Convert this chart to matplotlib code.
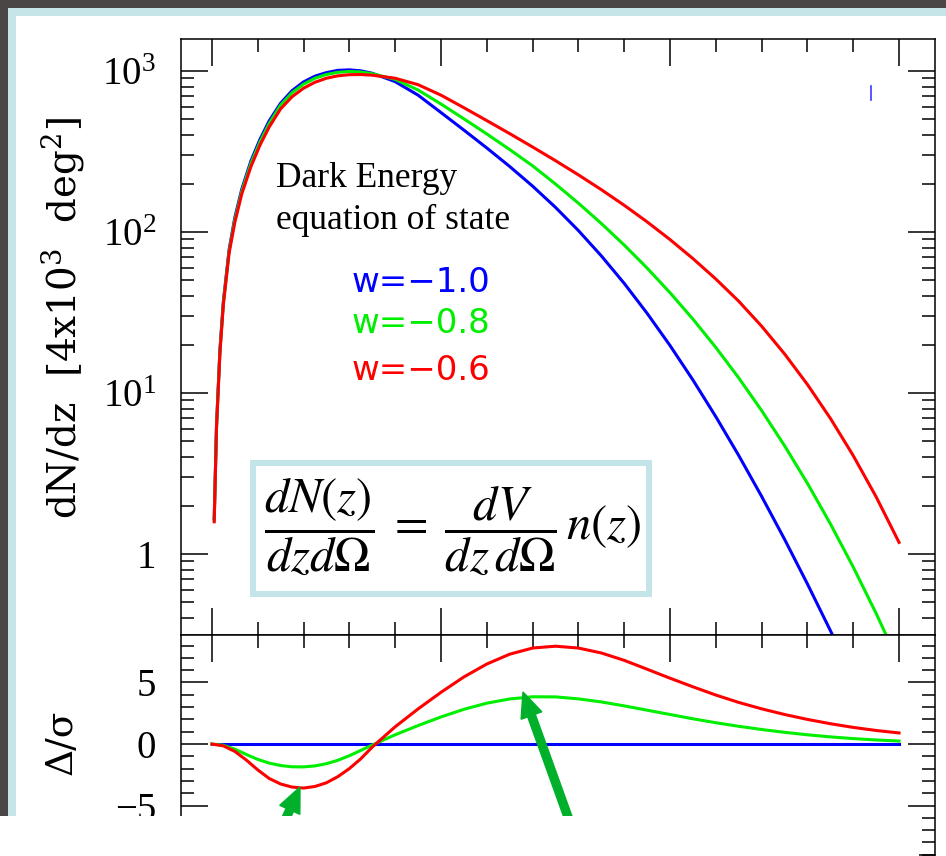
import numpy as np
import matplotlib
matplotlib.use('Agg')
import matplotlib.pyplot as plt
from matplotlib.patches import Rectangle, FancyArrow
from matplotlib.lines import Line2D
from matplotlib.transforms import IdentityTransform
from matplotlib.ticker import MultipleLocator, LogLocator, NullFormatter

# redshift grid of the upper panel, values read as log10(dN/dz)
z_top = [0.01, 0.02, 0.035, 0.05, 0.075, 0.10, 0.13, 0.17, 0.21, 0.25, 0.30, 0.35, 0.40,
         0.45, 0.50, 0.55, 0.60, 0.65, 0.70, 0.80, 0.90, 1.00, 1.10, 1.20, 1.30, 1.40,
         1.50, 1.60, 1.70, 1.80, 1.90, 2.00, 2.10, 2.20, 2.30, 2.40, 2.50, 2.60, 2.70,
         2.80, 2.90, 3.00]
logn_w10 = [0.22, 0.80, 1.27, 1.57, 1.89, 2.09, 2.264, 2.44, 2.576, 2.69, 2.80, 2.878, 2.932,
            2.968, 2.99, 3.004, 3.007, 3.001, 2.986, 2.934, 2.85, 2.742, 2.633, 2.522, 2.407, 2.285,
            2.153, 2.009, 1.852, 1.681, 1.495, 1.295, 1.081, 0.853, 0.612, 0.358, 0.092, -0.186, -0.475,
            -0.775, -1.085, -1.405]
logn_w08 = [0.21, 0.79, 1.26, 1.56, 1.88, 2.075, 2.25, 2.425, 2.56, 2.674, 2.788, 2.865, 2.918,
            2.955, 2.978, 2.992, 2.997, 2.994, 2.983, 2.948, 2.882, 2.795, 2.703, 2.609, 2.512, 2.411,
            2.298, 2.179, 2.053, 1.919, 1.776, 1.623, 1.459, 1.283, 1.094, 0.891, 0.673, 0.439, 0.188,
            -0.081, -0.369, -0.677]
logn_w06 = [0.20, 0.78, 1.25, 1.55, 1.87, 2.06, 2.235, 2.405, 2.54, 2.652, 2.765, 2.84, 2.893,
            2.93, 2.955, 2.97, 2.977, 2.978, 2.974, 2.955, 2.915, 2.85, 2.772, 2.692, 2.611, 2.528,
            2.443, 2.355, 2.263, 2.166, 2.063, 1.953, 1.835, 1.708, 1.570, 1.415, 1.243, 1.053, 0.843,
            0.611, 0.355, 0.072]

# lower panel: Delta/sigma relative to w=-1
z_bot = [0.0, 0.05, 0.10, 0.15, 0.20, 0.25, 0.30, 0.35, 0.40, 0.45, 0.50, 0.55, 0.60, 0.65, 0.70,
         0.80, 0.90, 1.00, 1.10, 1.20, 1.30, 1.40, 1.50, 1.60, 1.70, 1.80, 1.90, 2.00,
         2.10, 2.20, 2.30, 2.40, 2.50, 2.60, 2.70, 2.80, 2.90, 3.00]
ds_w10 = [0.0] * len(z_bot)
ds_w08 = [0, -0.1, -0.42, -0.85, -1.25, -1.55, -1.75, -1.85, -1.86, -1.78, -1.6, -1.32, -0.95, -0.52, -0.08,
          0.75, 1.5, 2.2, 2.82, 3.32, 3.66, 3.84, 3.83, 3.67, 3.42, 3.1, 2.75, 2.4,
          2.05, 1.73, 1.44, 1.18, 0.95, 0.75, 0.58, 0.44, 0.33, 0.24]
ds_w06 = [0, -0.15, -0.6, -1.3, -2.1, -2.8, -3.25, -3.5, -3.58, -3.45, -3.15, -2.65, -2.0, -1.2, -0.25,
          1.4, 2.85, 4.2, 5.45, 6.5, 7.3, 7.8, 7.95, 7.8, 7.4, 6.8, 6.08, 5.35,
          4.65, 3.98, 3.38, 2.86, 2.4, 2.0, 1.65, 1.35, 1.1, 0.9]

w_labels = ['w=\u22121.0', 'w=\u22120.8', 'w=\u22120.6']
colors = ['#0000ff', '#00ee00', '#ff0000']

W, H = 946, 856
def fx(px): return px / W
def fy(py): return 1 - py / H

plt.rcParams['font.family'] = 'Liberation Serif'
plt.rcParams['mathtext.fontset'] = 'custom'
plt.rcParams['mathtext.rm'] = 'Liberation Serif'
plt.rcParams['mathtext.it'] = 'Liberation Serif:italic'

fig = plt.figure(figsize=(9.46, 8.56), dpi=100)
ax1 = fig.add_axes([fx(181), fy(635), (935 - 181) / W, (635 - 39) / H])
ax2 = fig.add_axes([fx(181), fy(855), (935 - 181) / W, (855 - 635) / H], sharex=ax1)

for logn, c in zip([logn_w10, logn_w08, logn_w06], colors):
    ax1.plot(z_top, 10 ** np.array(logn), color=c, lw=2.2)
for ds, c in zip([ds_w10, ds_w08, ds_w06], colors):
    ax2.plot(z_bot, ds, color=c, lw=2.2)

ax1.set_yscale('log')
ax1.set_ylim(0.314, 1580)
ax1.set_xlim(-0.135, 3.157)
ax1.set_yticks([1, 10, 100, 1000])
ax1.set_yticklabels(['1', r'$10^1$', r'$10^2$', r'$10^3$'])
ax1.yaxis.set_minor_locator(LogLocator(base=10, subs=range(2, 10)))
ax1.yaxis.set_minor_formatter(NullFormatter())

ax2.set_ylim(-9.02, 8.86)
ax2.set_yticks([-5, 0, 5])
ax2.set_yticklabels(['\u22125', '0', '5'])
ax2.yaxis.set_minor_locator(MultipleLocator(1))

for ax in (ax1, ax2):
    ax.xaxis.set_major_locator(MultipleLocator(1))
    ax.xaxis.set_minor_locator(MultipleLocator(0.2))
    ax.tick_params(which='both', direction='in', top=True, right=True, width=1.1,
                   labelsize=28, pad=18, labelbottom=False)
    ax.tick_params(which='major', length=19.4)
    ax.tick_params(which='minor', length=9.7)
    for s in ax.spines.values():
        s.set_linewidth(1.1)

# axis labels
fig.text(fx(62), fy(318), r'dN/dz  [4x10$^3$  deg$^2$]', rotation=90, ha='center', va='center',
         fontsize=28, family='DejaVu Serif', math_fontfamily='dejavuserif')
fig.text(fx(62), fy(742), '\u0394/\u03c3', rotation=90, ha='center', va='center',
         fontsize=27, family='DejaVu Serif')

# annotations
fig.text(fx(276), fy(187), 'Dark Energy', fontsize=25.5, va='baseline')
fig.text(fx(276), fy(229), 'equation of state', fontsize=25.5, va='baseline')
for lab, c, yb in zip(w_labels, colors, [292, 333, 380]):
    fig.text(fx(352), fy(yb), lab, color=c, fontsize=24.5, va='baseline', family='DejaVu Sans')

fig.add_artist(Line2D([871, 871], [H - 86, H - 100], transform=IdentityTransform(),
                      color='#3a3aff', lw=1.2))

# equation box
fig.add_artist(Rectangle((253, H - 594), 396, 131, transform=IdentityTransform(),
                         fc='white', ec='#c3e4e8', lw=4.3, zorder=3))
fig.text(fx(453), fy(526), r'$\dfrac{dN(z)}{dz d\Omega}\;=\;\dfrac{dV}{dz\,d\Omega}\,n(z)$',
         ha='center', va='center', fontsize=35, math_fontfamily='stix', zorder=4)

# arrows
arrow_c = '#00b02a'
fig.add_artist(FancyArrow(278.5, H - 835, 300 - 278.5, 835 - 787, width=8, head_width=22,
                          head_length=25, length_includes_head=True, color=arrow_c,
                          transform=IdentityTransform(), zorder=10))
fig.add_artist(FancyArrow(574.5, H - 835, 523 - 574.5, 835 - 692, width=8, head_width=22,
                          head_length=25, length_includes_head=True, color=arrow_c,
                          transform=IdentityTransform(), zorder=10))

# slide frame and white cover at the bottom
fig.add_artist(Rectangle((0, H - 8), W, 8, transform=IdentityTransform(), fc='#4a4646', ec='none', zorder=20))
fig.add_artist(Rectangle((0, 40), 8, H - 48, transform=IdentityTransform(), fc='#4a4646', ec='none', zorder=20))
fig.add_artist(Rectangle((8, H - 16), W - 8, 8, transform=IdentityTransform(), fc='#c5e5e8', ec='none', zorder=20))
fig.add_artist(Rectangle((8, 40), 8, H - 56, transform=IdentityTransform(), fc='#c5e5e8', ec='none', zorder=20))
fig.add_artist(Rectangle((0, 0), 919, 40, transform=IdentityTransform(), fc='white', ec='none', zorder=20))

fig.savefig('out.png', dpi=100)
